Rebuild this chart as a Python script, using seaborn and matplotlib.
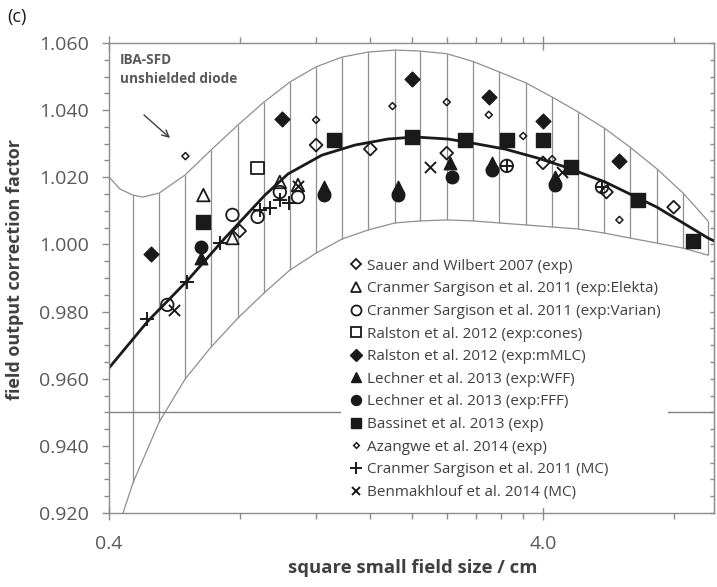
import numpy as np
import pandas as pd
import matplotlib
matplotlib.use("Agg")
import matplotlib.pyplot as plt
import matplotlib.lines as mlines
from matplotlib.ticker import FixedLocator, FixedFormatter, NullFormatter, MultipleLocator
import seaborn as sns

# ---------------- data ----------------
sauer_x = [0.80, 1.20, 1.60, 2.40, 4.00, 5.60, 8.00]
sauer_y = [1.0040, 1.0296, 1.0284, 1.0272, 1.0243, 1.0156, 1.0111]

elekta_x = [0.66, 0.77, 0.99, 1.09]
elekta_y = [1.0147, 1.0019, 1.0186, 1.0177]

varian_x = [0.545, 0.77, 0.88, 0.99, 1.09, 3.30, 5.47]
varian_y = [0.9820, 1.0088, 1.0082, 1.0156, 1.0141, 1.0234, 1.0171]

cones_x = [0.88]
cones_y = [1.0228]

mmlc_x = [0.50, 1.00, 2.00, 3.00, 4.00, 6.00]
mmlc_y = [0.9971, 1.0374, 1.0493, 1.0439, 1.0368, 1.0249]

wff_x = [0.65, 1.25, 1.85, 2.44, 3.05, 4.26]
wff_y = [0.9960, 1.0171, 1.0171, 1.0243, 1.0243, 1.0201]

fff_x = [0.65, 1.25, 1.85, 2.47, 3.05, 4.26]
fff_y = [0.9992, 1.0147, 1.0147, 1.0201, 1.0222, 1.0177]

bassinet_x = [0.66, 1.32, 2.00, 2.65, 3.30, 4.00, 4.64, 6.62, 8.86]
bassinet_y = [1.0067, 1.0311, 1.0320, 1.0311, 1.0311, 1.0311, 1.0231, 1.0132, 1.0010]

azangwe_x = [0.60, 1.20, 1.80, 2.40, 3.00, 3.60, 4.20, 6.00]
azangwe_y = [1.0263, 1.0371, 1.0412, 1.0424, 1.0386, 1.0323, 1.0254, 1.0073]

mc_x = [0.49, 0.605, 0.72, 0.89, 0.94, 0.99, 1.04, 3.30, 5.47]
mc_y = [0.9778, 0.9888, 1.0004, 1.0103, 1.0108, 1.0132, 1.0123, 1.0234, 1.0171]

benm_x = [0.565, 1.09, 2.20, 4.42]
benm_y = [0.9805, 1.0174, 1.0231, 1.0216]

# fitted curve (thick black line)
fit_x = [0.400, 0.492, 0.605, 0.740, 0.915, 1.034, 1.238, 1.475, 1.758, 2.029,
         2.416, 2.745, 3.271, 3.896, 4.494, 5.560, 6.417, 7.32, 8.41, 9.60, 10.0]
fit_y = [0.9632, 0.9772, 0.9891, 1.0019, 1.0147, 1.0210, 1.0266, 1.0296, 1.0314, 1.0320,
         1.0314, 1.0302, 1.0284, 1.0257, 1.0231, 1.0186, 1.0147, 1.0111, 1.0064, 1.0019, 1.0008]

# hatched band (IBA-SFD unshielded diode)
band_x = [0.454, 0.522, 0.599, 0.687, 0.793, 0.910, 1.045, 1.200, 1.377, 1.581, 1.824, 2.082,
          2.403, 2.759, 3.167, 3.655, 4.196, 4.816, 5.529, 6.345, 7.32, 8.41, 9.60]
band_upper = [1.0147, 1.0153, 1.0207, 1.0281, 1.0356, 1.0424, 1.0484, 1.0529, 1.0558, 1.0573,
              1.0579, 1.0576, 1.0568, 1.0545, 1.0514, 1.0481, 1.0439, 1.0395, 1.0347, 1.0290,
              1.0225, 1.0153, 1.0070]
band_lower = [0.9289, 0.9471, 0.9599, 0.9694, 0.9781, 0.9855, 0.9924, 0.9974, 1.0016, 1.0043,
              1.0064, 1.0070, 1.0073, 1.0070, 1.0064, 1.0058, 1.0052, 1.0046, 1.0034, 1.0019,
              1.0004, 0.9989, 0.9968]
upper_edge_x = [0.40, 0.424]
upper_edge_y = [1.0201, 1.0165]
upper_min_x = [0.479]
upper_min_y = [1.0141]
lower_edge_x = [0.425, 0.431]
lower_edge_y = [0.9170, 0.9200]

ref_level = 0.950

xtick_major = [0.4, 4.0]
xtick_labels = ["0.4", "4.0"]
xtick_minor = [0.8, 1.2, 1.6, 2.0, 2.4, 2.8, 3.2, 3.6, 8.0]
ytick_values = [0.920, 0.940, 0.960, 0.980, 1.000, 1.020, 1.040, 1.060]
ytick_labels = ["0.920", "0.940", "0.960", "0.980", "1.000", "1.020", "1.040", "1.060"]

labels = ["Sauer and Wilbert 2007 (exp)",
          "Cranmer Sargison et al. 2011 (exp:Elekta)",
          "Cranmer Sargison et al. 2011 (exp:Varian)",
          "Ralston et al. 2012 (exp:cones)",
          "Ralston et al. 2012 (exp:mMLC)",
          "Lechner et al. 2013 (exp:WFF)",
          "Lechner et al. 2013 (exp:FFF)",
          "Bassinet et al. 2013 (exp)",
          "Azangwe et al. 2014 (exp)",
          "Cranmer Sargison et al. 2011 (MC)",
          "Benmakhlouf et al. 2014 (MC)"]

# ---------------- style ----------------
sns.set_style("white")
plt.rcParams["font.family"] = ["Open Sans", "DejaVu Sans"]

INK = "#1a1a1a"
SPINE = "#8c8c8c"
BAND = "#8f8f8f"
TXT = "#404040"
TICKTXT = "#595959"

W, H = 717, 587
fig = plt.figure(figsize=(W / 100, H / 100), dpi=100)
ax = fig.add_axes([109 / W, (H - 513) / H, 605 / W, 470 / H])
ax.set_xscale("log")

# band
ux = upper_edge_x + band_x[:1] + upper_min_x + band_x[1:]
uy = upper_edge_y + band_upper[:1] + upper_min_y + band_upper[1:]
ax.plot(ux, uy, color=BAND, lw=0.9, zorder=1)
ax.plot(lower_edge_x + band_x, lower_edge_y + band_lower, color=BAND, lw=0.9, zorder=1)
ax.vlines(band_x, band_lower, band_upper, colors=BAND, lw=0.9, zorder=1)

ax.axhline(ref_level, color="#808080", lw=1.0, zorder=1)

# fit line
sns.lineplot(x=fit_x, y=fit_y, ax=ax, color=INK, lw=2.0, sort=False,
             estimator=None, zorder=2)

series = [
    (sauer_x, sauer_y, "D", 6.5, False, 1.3),
    (elekta_x, elekta_y, "^", 9.0, False, 1.3),
    (varian_x, varian_y, "o", 9.0, False, 1.3),
    (cones_x, cones_y, "s", 9.0, False, 1.3),
    (mmlc_x, mmlc_y, "D", 7.5, True, 1.0),
    (wff_x, wff_y, "^", 9.0, True, 1.0),
    (fff_x, fff_y, "o", 9.0, True, 1.0),
    (bassinet_x, bassinet_y, "s", 9.5, True, 1.0),
    (azangwe_x, azangwe_y, "D", 3.6, False, 1.1),
    (mc_x, mc_y, "+", 10.0, None, 1.4),
    (benm_x, benm_y, "x", 8.0, None, 1.4),
]

handles = []
for (xs, ys, m, ms, filled, lw), lab in zip(series, labels):
    df = pd.DataFrame({"x": xs, "y": ys})
    if filled is None:
        sns.scatterplot(data=df, x="x", y="y", ax=ax, marker=m, s=ms ** 2,
                        color=INK, linewidth=lw, zorder=3)
        h = mlines.Line2D([], [], ls="none", marker=m, ms=ms * 0.8, color=INK, mew=lw)
    else:
        fc = INK if filled else "none"
        sns.scatterplot(data=df, x="x", y="y", ax=ax, marker=m, s=ms ** 2,
                        color=INK, facecolor=fc, edgecolor=INK, linewidth=lw, zorder=3)
        h = mlines.Line2D([], [], ls="none", marker=m, ms=ms * 0.8, mfc=fc, mec=INK, mew=lw)
    handles.append(h)

# axes limits & ticks
ax.set_xlim(0.4, 0.4 * 10 ** (605 / 434))
ax.set_ylim(0.920, 1.060)
ax.xaxis.set_major_locator(FixedLocator(xtick_major))
ax.xaxis.set_major_formatter(FixedFormatter(xtick_labels))
ax.xaxis.set_minor_locator(FixedLocator(xtick_minor))
ax.xaxis.set_minor_formatter(NullFormatter())
ax.yaxis.set_major_locator(FixedLocator(ytick_values))
ax.yaxis.set_major_formatter(FixedFormatter(ytick_labels))
ax.yaxis.set_minor_locator(MultipleLocator(0.005))

ax.tick_params(axis="x", which="major", direction="inout", length=9.5, width=1,
               color=SPINE, top=True, bottom=True, labelsize=14,
               labelcolor=TICKTXT, pad=11)
ax.tick_params(axis="x", which="minor", direction="out", length=4, width=1,
               color=SPINE, top=True, bottom=True)
ax.tick_params(axis="y", which="major", direction="out", length=5, width=1,
               color=SPINE, left=True, right=False, labelsize=14,
               labelcolor=TICKTXT, pad=9.5)
ax.tick_params(axis="y", which="minor", direction="out", length=3.6, width=1,
               color=SPINE, left=True, right=False)
for sp in ax.spines.values():
    sp.set_color(SPINE)
    sp.set_linewidth(1)
    sp.set_visible(True)

sec = ax.secondary_yaxis("right")
sec.yaxis.set_major_locator(MultipleLocator(0.005))
sec.yaxis.set_major_formatter(NullFormatter())
sec.tick_params(axis="y", direction="in", length=3, width=1, color=SPINE)
sec.spines["right"].set_color(SPINE)

ax.set_xlabel("square small field size / cm", fontsize=13.3, fontweight="bold", color=TXT)
ax.set_ylabel("field output correction factor", fontsize=13, fontweight="bold", color=TXT)
ax.xaxis.label.set_va("center")
ax.yaxis.label.set_va("center")
ax.xaxis.set_label_coords((413 - 109) / 605, (513 - 568) / 470)
ax.yaxis.set_label_coords((15 - 109) / 605, (513 - 270) / 470)

leg = ax.legend(handles, labels, loc="upper left",
                bbox_to_anchor=((341 - 109) / 605, (513 - 251) / 470),
                frameon=True, facecolor="white", edgecolor="none", framealpha=1,
                fontsize=11, handlelength=0.9, handletextpad=0.3,
                labelspacing=0.5, borderpad=0.5, borderaxespad=0)
for t in leg.get_texts():
    t.set_color(TXT)
leg.set_zorder(10)

fig.text(7 / W, 1 - 17 / H, "(c)", fontsize=13, color=INK, ha="left", va="center")
fig.text(120 / W, 1 - 53 / H, "IBA-SFD\nunshielded diode", fontsize=9.8,
         fontweight="bold", color=TICKTXT, ha="left", va="top", linespacing=1.45)
ax.annotate("", xy=(170 / W, 1 - 138 / H), xytext=(144 / W, 1 - 115 / H),
            xycoords="figure fraction", textcoords="figure fraction",
            arrowprops=dict(arrowstyle="->", color=TXT, lw=1, shrinkA=0, shrinkB=0,
                            mutation_scale=12))

fig.savefig("out.png", dpi=100)
